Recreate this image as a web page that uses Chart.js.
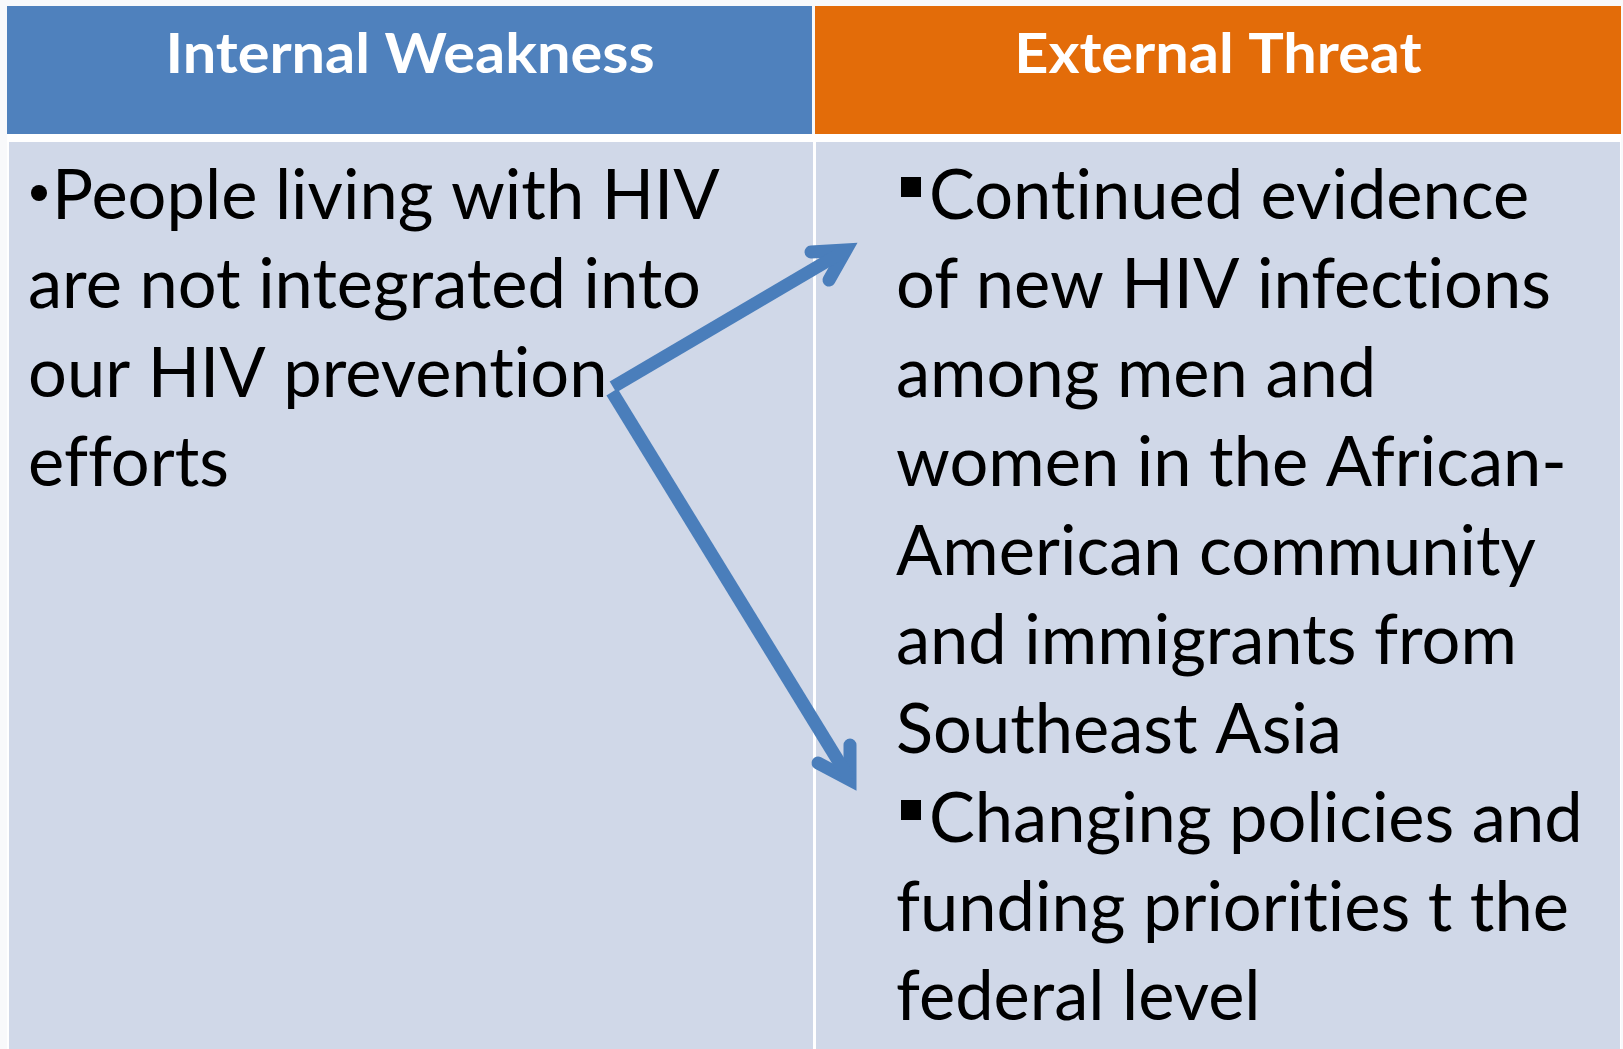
<!DOCTYPE html>
<html>
<head>
<meta charset="utf-8">
<script src="https://cdn.jsdelivr.net/npm/chart.js@4.4.1/dist/chart.umd.min.js"></script>
<style>
html, body { margin: 0; padding: 0; background: #f8f9fb; overflow: hidden; }
canvas { display: block; }
</style>
</head>
<body>
<canvas id="swotChart" width="1623" height="1049"></canvas>
<script>
// table content
const headers = ["Internal Weakness", "External Threat"];
const weaknessLines = [
    "People living with HIV",
    "are not integrated into",
    "our HIV prevention",
    "efforts"
];
const weaknessBulletRows = [0];
const threatLines = [
    "Continued evidence",
    "of new HIV infections",
    "among men and",
    "women in the African-",
    "American community",
    "and immigrants from",
    "Southeast Asia",
    "Changing policies and",
    "funding priorities t the",
    "federal level"
];
const threatBulletRows = [0, 7];

// arrow paths (chart units = pixels of the slide)
const arrowUpShaft = [{x: 613, y: 387}, {x: 846, y: 250}];
const arrowUpHead = [{x: 811, y: 252}, {x: 846, y: 250}, {x: 829, y: 280}];
const arrowDownShaft = [{x: 612, y: 392}, {x: 850, y: 780}];
const arrowDownHead = [{x: 818, y: 763}, {x: 850, y: 780}, {x: 850, y: 745}];

const blue = "#4f81bd";
const orange = "#e36c09";
const cellFill = "#d0d8e8";
const arrowColor = "#4a7ebb";

const tablePlugin = {
    id: "tablePlugin",
    beforeDatasetsDraw(chart) {
        const ctx = chart.ctx;
        const sx = chart.scales.x, sy = chart.scales.y;
        const px = v => sx.getPixelForValue(v);
        const py = v => sy.getPixelForValue(v);
        const rect = (x0, y0, x1, y1, c) => {
            ctx.fillStyle = c;
            ctx.fillRect(px(x0), py(y0), px(x1) - px(x0), py(y1) - py(y0));
        };
        // break up ligatures (Lato joins "ti", Calibri does not)
        const noLig = t => Array.from(t).join("\u200C");
        ctx.save();
        // header cells
        rect(7, 6, 812, 134, blue);
        rect(815, 6, 1621, 134, orange);
        rect(7, 134, 1621, 142, "#ffffff");
        // body cells
        rect(7, 142, 1621, 1049, "#ffffff");
        rect(9, 142, 813, 1049, cellFill);
        rect(816, 142, 1620, 1049, cellFill);

        // header text
        ctx.font = "bold 56px Lato";
        const hsq = 489 / ctx.measureText(noLig(headers[0])).width;
        ctx.fillStyle = "#ffffff";
        const centers = [410, 1218];
        headers.forEach((h, i) => {
            const w = ctx.measureText(noLig(h)).width * hsq;
            ctx.save();
            ctx.translate(px(centers[i]) - w / 2, py(73));
            ctx.scale(hsq, 1);
            ctx.fillText(noLig(h), 0, 0);
            ctx.restore();
        });

        // body text
        ctx.font = "69px Lato";
        const bsq = 673 / ctx.measureText(noLig(weaknessLines[1])).width;
        const drawText = (t, x, y) => {
            ctx.fillStyle = "#000000";
            ctx.save();
            ctx.translate(px(x), py(y));
            ctx.scale(bsq, 1);
            ctx.fillText(noLig(t), 0, 0);
            ctx.restore();
        };
        weaknessLines.forEach((t, i) => {
            const base = 219 + 89 * i;
            if (weaknessBulletRows.includes(i)) {
                ctx.fillStyle = "#000000";
                ctx.beginPath();
                ctx.arc(px(39), py(base - 26), 8, 0, Math.PI * 2);
                ctx.fill();
                drawText(t, 52, base);
            } else {
                drawText(t, 28, base);
            }
        });
        threatLines.forEach((t, i) => {
            const base = 219 + 89 * i;
            if (threatBulletRows.includes(i)) {
                rect(901, base - 42, 921, base - 22, "#000000");
                drawText(t, 929, base);
            } else {
                drawText(t, 896, base);
            }
        });
        ctx.restore();
    }
};

const lineStyle = {
    showLine: true,
    pointRadius: 0,
    borderWidth: 13,
    borderColor: arrowColor,
    backgroundColor: arrowColor,
    fill: false,
    tension: 0
};

const ctxSwot = document.getElementById("swotChart").getContext("2d");
new Chart(ctxSwot, {
    type: "scatter",
    data: {
        datasets: [
            Object.assign({data: arrowUpShaft, borderCapStyle: "butt"}, lineStyle),
            Object.assign({data: arrowUpHead, borderCapStyle: "round", borderJoinStyle: "miter"}, lineStyle),
            Object.assign({data: arrowDownShaft, borderCapStyle: "butt"}, lineStyle),
            Object.assign({data: arrowDownHead, borderCapStyle: "round", borderJoinStyle: "miter"}, lineStyle)
        ]
    },
    options: {
        responsive: false,
        devicePixelRatio: 1,
        animation: false,
        layout: {padding: 0},
        clip: false,
        plugins: {legend: {display: false}, tooltip: {enabled: false}},
        scales: {
            x: {type: "linear", min: 0, max: 1623, display: false},
            y: {type: "linear", min: 0, max: 1049, reverse: true, display: false}
        }
    },
    plugins: [tablePlugin]
});
</script>
</body>
</html>
